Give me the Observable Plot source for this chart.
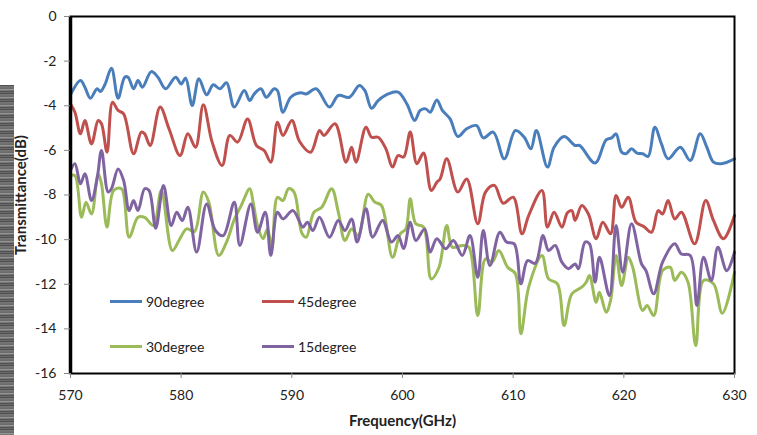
<!DOCTYPE html>
<html>
<head>
<meta charset="utf-8">
<script src="https://cdn.jsdelivr.net/npm/d3@7"></script>
<script src="https://cdn.jsdelivr.net/npm/@observablehq/plot@0.6"></script>
<style>
  html, body { margin: 0; padding: 0; background: #fff; }
  #wrap { position: relative; width: 757px; height: 435px; font-family: Lato, "Open Sans", sans-serif; overflow: hidden; }
  #strip { position: absolute; left: 0; top: 85px; width: 14px; height: 350px;
    background: repeating-linear-gradient(180deg, #3a3a3a 0px, #8a8a8a 2px, #555 3px, #aaa 5px, #444 6px, #777 8px); }
  .leg { position: absolute; display: flex; align-items: center; font-size: 14px; color: #222; }
  .leg span.sw { display: inline-block; width: 32px; height: 3px; margin-right: 4px; }
</style>
</head>
<body>
<div id="wrap"><div id="strip"></div></div>
<script>
// ---- data ----
const seriesNames = ["90degree", "45degree", "30degree", "15degree"];
const seriesColors = ["#4a7ebb", "#c0504d", "#9bbb59", "#8064a2"];
const xTicks = [570, 580, 590, 600, 610, 620, 630];
const yTicks = [0, -2, -4, -6, -8, -10, -12, -14, -16];

const f90 = [570, 570.9, 571.3, 571.8, 572.4, 572.7, 573.1, 573.7, 574.3, 574.9, 575.2, 575.7, 576.1, 576.5, 577.3, 577.9, 578.6, 579.5, 580.0, 580.4, 581.0, 581.6, 582.3, 582.9, 583.5, 584.1, 584.8, 585.7, 586.2, 586.6, 587.2, 587.7, 588.4, 588.7, 589.2, 589.9, 590.8, 591.3, 592.2, 593.4, 594.2, 595.2, 596.1, 596.6, 597.2, 597.8, 598.7, 599.6, 600.4, 601.1, 601.6, 602.1, 602.5, 603.1, 603.6, 604.3, 605.0, 605.8, 606.7, 607.3, 608.2, 609.2, 610.2, 611.0, 611.6, 612.1, 613.1, 613.7, 614.6, 615.6, 616.0, 617.4, 618.4, 618.9, 619.3, 619.8, 620.2, 620.7, 621.2, 621.7, 622.2, 622.8, 623.4, 624.0, 625.1, 626.0, 626.9, 627.5, 628.1, 628.8, 630];
const v90 = [-3.51, -2.87, -3.17, -3.66, -3.24, -3.36, -3.06, -2.32, -3.66, -2.72, -2.72, -3.24, -2.87, -3.17, -2.47, -2.72, -3.24, -2.72, -3.02, -2.76, -3.99, -2.79, -3.51, -3.06, -3.24, -2.97, -4.06, -3.32, -3.77, -3.47, -3.24, -3.62, -3.24, -3.32, -4.29, -3.62, -3.42, -3.47, -3.24, -4.06, -3.54, -3.62, -3.09, -3.32, -4.11, -3.77, -3.47, -3.39, -3.92, -4.66, -4.21, -4.14, -4.29, -3.74, -4.21, -4.59, -5.38, -5.03, -4.89, -5.44, -5.18, -6.38, -5.11, -5.41, -5.93, -5.11, -6.75, -5.86, -5.38, -5.78, -5.78, -6.57, -5.53, -5.44, -5.26, -6.08, -6.15, -5.93, -6.12, -6.15, -6.27, -4.96, -5.71, -6.38, -5.86, -6.45, -5.26, -5.86, -6.53, -6.60, -6.38];

const f45 = [570, 570.4, 570.9, 571.3, 571.9, 572.5, 572.8, 573.3, 573.8, 574.3, 574.8, 575.7, 576.4, 576.7, 577.2, 578.1, 578.9, 579.9, 580.6, 581.3, 582.0, 582.8, 583.7, 584.4, 585.1, 586.0, 586.8, 587.5, 588.1, 588.7, 589.2, 590.0, 590.7, 591.7, 592.5, 592.9, 593.9, 594.9, 595.4, 595.8, 596.7, 597.2, 597.8, 598.5, 599.1, 599.6, 600.1, 600.7, 601.3, 601.9, 602.6, 603.1, 603.4, 604.0, 605.0, 605.8, 606.8, 607.5, 608.3, 609.1, 610.0, 610.8, 611.4, 612.6, 613.1, 613.7, 614.4, 614.9, 615.3, 615.6, 616.2, 616.8, 617.5, 618.1, 618.8, 619.3, 619.8, 620.4, 621.1, 621.8, 622.5, 623.1, 623.5, 624.0, 624.6, 625.2, 626.4, 627.4, 628.1, 629.0, 630];
const v45 = [-3.92, -4.29, -5.26, -4.66, -5.71, -4.66, -4.81, -6.08, -3.84, -4.21, -4.36, -6.15, -5.18, -5.26, -5.78, -4.06, -5.03, -6.23, -5.26, -5.86, -3.96, -5.63, -6.68, -5.33, -5.63, -4.59, -5.78, -6.01, -6.53, -4.74, -5.33, -4.66, -5.60, -6.08, -5.11, -5.33, -4.81, -6.53, -5.86, -6.53, -4.96, -5.41, -5.41, -5.93, -6.75, -6.23, -6.30, -5.18, -6.60, -6.12, -7.80, -7.43, -7.28, -6.38, -7.87, -7.28, -9.29, -7.87, -7.57, -8.37, -8.10, -9.74, -8.92, -7.80, -9.44, -8.77, -9.44, -8.80, -8.70, -9.14, -8.47, -8.85, -9.96, -9.22, -9.74, -8.02, -8.55, -8.10, -9.22, -9.41, -9.67, -8.70, -8.85, -8.25, -9.07, -8.77, -10.19, -8.25, -9.14, -9.96, -8.92];

const f30 = [570, 570.4, 571.0, 571.4, 571.9, 572.5, 572.8, 573.3, 573.9, 574.6, 575.3, 576.1, 576.7, 577.5, 578.2, 579.2, 579.8, 580.5, 581.2, 582.0, 582.5, 583.4, 584.1, 584.8, 585.4, 586.2, 586.5, 586.9, 587.4, 587.8, 588.2, 588.7, 589.2, 589.7, 590.2, 590.9, 591.3, 592.0, 592.7, 593.6, 594.2, 594.8, 595.4, 596.0, 596.9, 597.5, 598.1, 599.1, 599.8, 600.3, 600.7, 601.2, 601.9, 602.6, 603.3, 604.0, 604.5, 605.4, 606.0, 606.8, 607.5, 608.1, 608.7, 609.5, 610.2, 610.7, 611.4, 612.6, 613.2, 614.0, 614.6, 615.3, 616.2, 616.6, 616.9, 617.5, 617.8, 618.4, 618.8, 619.3, 619.8, 620.4, 620.8, 621.7, 622.1, 622.7, 623.5, 624.2, 624.6, 625.2, 625.8, 626.5, 627.2, 628.1, 628.9, 630];
const v30 = [-7.13, -7.13, -9.00, -8.32, -8.85, -7.05, -7.50, -9.44, -7.80, -7.72, -9.89, -9.00, -9.00, -9.37, -7.80, -10.49, -10.04, -9.52, -9.64, -7.87, -8.32, -10.71, -10.11, -9.10, -8.50, -7.72, -8.32, -9.37, -9.96, -9.52, -10.41, -8.10, -8.25, -7.72, -7.87, -9.70, -9.89, -8.77, -8.55, -7.72, -8.77, -10.04, -9.52, -9.82, -7.97, -8.32, -8.47, -10.79, -9.74, -9.52, -8.17, -9.29, -9.44, -11.76, -11.24, -9.37, -10.34, -10.26, -10.34, -13.40, -10.86, -11.01, -10.49, -11.24, -11.53, -14.22, -12.13, -10.71, -11.76, -11.98, -13.85, -12.43, -12.13, -11.91, -11.61, -12.81, -12.36, -13.25, -12.73, -10.71, -12.06, -10.79, -11.24, -13.18, -12.95, -13.40, -11.39, -11.24, -11.83, -11.46, -11.91, -14.75, -11.83, -11.98, -13.30, -11.46];

const f15 = [570, 570.4, 570.9, 571.3, 571.9, 572.4, 572.8, 573.4, 573.7, 574.3, 574.8, 575.3, 575.7, 576.1, 576.7, 577.1, 577.7, 578.4, 579.1, 579.6, 580.1, 580.6, 581.4, 582.3, 583.1, 583.8, 584.8, 585.3, 586.3, 586.9, 587.6, 588.1, 588.7, 589.2, 590.1, 591.0, 591.4, 591.9, 592.5, 593.4, 594.2, 594.8, 595.4, 595.9, 596.7, 597.3, 598.2, 599.0, 599.6, 600.1, 600.7, 601.2, 602.0, 602.5, 603.1, 603.9, 604.6, 605.4, 606.1, 606.8, 607.3, 607.9, 608.8, 609.4, 610.1, 610.7, 611.3, 612.0, 612.7, 613.2, 613.8, 614.4, 615.0, 615.6, 615.9, 616.5, 616.9, 617.4, 617.8, 618.7, 619.3, 619.9, 620.7, 621.6, 622.0, 622.7, 623.5, 624.6, 625.2, 626.0, 626.6, 627.2, 627.9, 628.5, 629.3, 630];
const v15 = [-6.90, -6.60, -7.50, -7.05, -8.25, -7.28, -6.01, -7.87, -7.72, -6.83, -7.35, -8.70, -8.25, -8.70, -7.72, -7.80, -9.49, -7.57, -9.37, -8.77, -9.14, -8.55, -10.56, -8.40, -9.59, -9.82, -8.32, -10.26, -8.40, -9.67, -8.77, -10.71, -8.77, -9.07, -8.70, -9.44, -9.22, -9.59, -9.00, -9.89, -9.14, -9.59, -9.07, -10.11, -8.62, -9.89, -9.14, -10.11, -9.82, -10.40, -9.22, -10.04, -9.52, -10.56, -9.96, -10.41, -10.04, -10.71, -9.82, -11.69, -9.59, -11.16, -9.67, -10.11, -10.19, -11.98, -10.94, -11.06, -9.82, -10.49, -10.26, -11.01, -11.30, -11.09, -11.31, -10.11, -10.19, -11.91, -10.79, -12.51, -9.37, -11.46, -9.29, -11.09, -11.39, -12.43, -11.01, -10.19, -10.64, -10.71, -12.95, -10.79, -11.83, -10.34, -11.39, -10.56];

const xTitle = "Frequency(GHz)";
const yTitle = "Transmittance(dB)";

// ---- build table ----
const freqs = [f90, f45, f30, f15];
const vals = [v90, v45, v30, v15];
const rows = [];
seriesNames.forEach((name, i) => {
  freqs[i].forEach((f, j) => rows.push({series: name, f, v: vals[i][j]}));
});

const font = "Lato, 'Open Sans', sans-serif";
const chart = Plot.plot({
  width: 757,
  height: 435,
  marginLeft: 70,
  marginRight: 23,
  marginTop: 16,
  marginBottom: 62,
  style: {fontFamily: font, fontSize: "14px", color: "#222", background: "transparent"},
  x: {domain: [570, 630]},
  y: {domain: [-16, 0]},
  color: {domain: seriesNames, range: seriesColors},
  marks: [
    ...seriesNames.map(name => Plot.line(rows.filter(d => d.series === name), {
      x: "f", y: "v", stroke: "series", strokeWidth: 3, curve: "catmull-rom"
    })),
    Plot.frame({stroke: "#000", strokeWidth: 2}),
    Plot.ruleX([570], {stroke: "#000", strokeWidth: 3.5}),
    Plot.axisX({ticks: xTicks, tickSize: 5, tickPadding: 12, tickFormat: d => String(d), label: null, stroke: "#888"}),
    Plot.axisY({ticks: yTicks, tickSize: 6, tickPadding: 8, tickFormat: d => String(d), label: null, stroke: "#888"}),
    Plot.text([xTitle], {frameAnchor: "bottom", dy: 48, lineAnchor: "middle", textAnchor: "middle", text: d => d, fontWeight: "bold", fontSize: 15}),
    Plot.text([yTitle], {frameAnchor: "left", dx: -49, lineAnchor: "middle", textAnchor: "middle", text: d => d, rotate: -90, fontWeight: "bold", fontSize: 15})
  ]
});
chart.style.position = "absolute";
chart.style.left = "0px";
chart.style.top = "0px";
const wrap = document.getElementById("wrap");
wrap.appendChild(chart);

// legend (inside plot area)
const legendPos = [[110, 301], [262, 301], [110, 346], [262, 346]];
seriesNames.forEach((name, i) => {
  const el = document.createElement("div");
  el.className = "leg";
  el.style.left = legendPos[i][0] + "px";
  el.style.top = (legendPos[i][1] - 10) + "px";
  el.style.height = "20px";
  el.innerHTML = `<span class="sw" style="background:${seriesColors[i]}"></span><span>${name}</span>`;
  wrap.appendChild(el);
});
</script>
</body>
</html>
